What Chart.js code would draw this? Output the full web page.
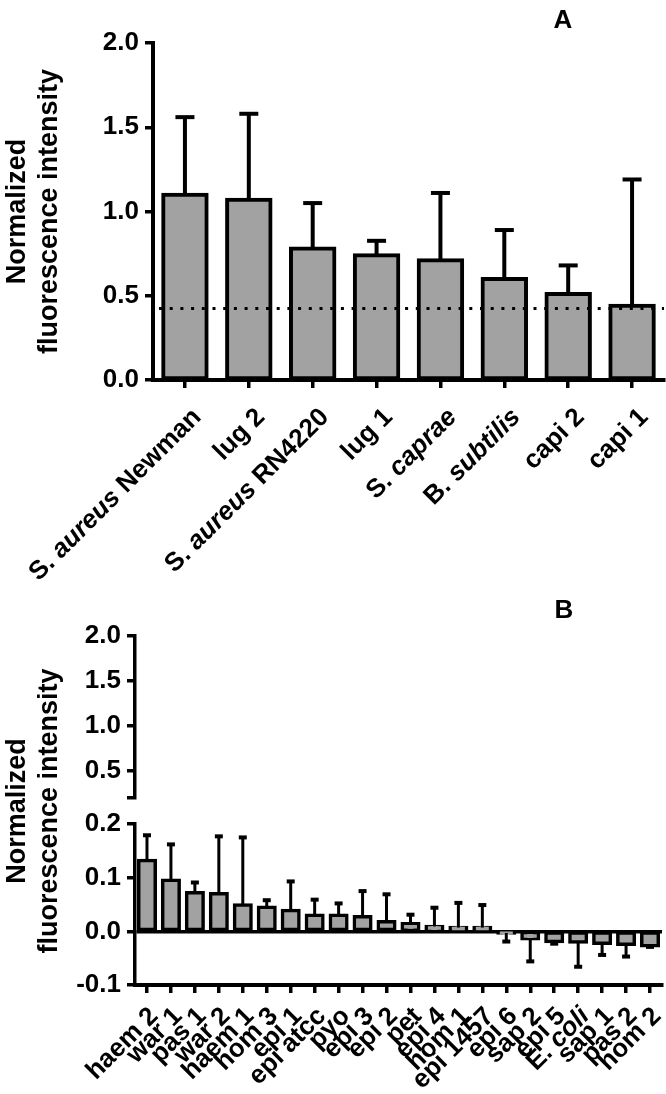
<!DOCTYPE html>
<html>
<head>
<meta charset="utf-8">
<script src="https://cdn.jsdelivr.net/npm/chart.js@4/dist/chart.umd.min.js"></script>
<style>
  html, body { margin: 0; padding: 0; background: #fff; }
  canvas { display: block; }
</style>
</head>
<body>
<canvas id="panelA" width="666" height="590"></canvas>
<canvas id="panelB" width="666" height="504"></canvas>
<script>
// panel A
const labelsA = ['S. aureus Newman', 'lug 2', 'S. aureus RN4220', 'lug 1', 'S. caprae', 'B. subtilis', 'capi 2', 'capi 1'];
const valuesA = [1.10, 1.07, 0.78, 0.74, 0.71, 0.60, 0.51, 0.44];
const errorsA = [0.46, 0.51, 0.27, 0.086, 0.40, 0.29, 0.17, 0.75];
const yTicksA = [0, 0.5, 1.0, 1.5, 2.0];
const cutoffA = 0.425;

// panel B
const labelsB = ['haem 2', 'war 1', 'pas 1', 'war 2', 'haem 1', 'hom 3', 'epi 1', 'epi atcc', 'pyo', 'epi 3', 'epi 2',
                 'pet', 'epi 4', 'hom 1', 'epi 1457', 'epi 6', 'sap 2', 'epi 5', 'E. coli', 'sap 1', 'pas 2', 'hom 2'];
const valuesB = [0.132, 0.095, 0.072, 0.070, 0.049, 0.045, 0.039, 0.030, 0.030, 0.027, 0.018,
                 0.014, 0.009, 0.007, 0.007, -0.003, -0.014, -0.019, -0.020, -0.022, -0.024, -0.027];
const errorsB = [0.047, 0.067, 0.019, 0.107, 0.126, 0.013, 0.054, 0.029, 0.022, 0.048, 0.051,
                 0.017, 0.035, 0.046, 0.042, 0.016, 0.042, 0.004, 0.046, 0.022, 0.023, 0.002];
const yTicksBTop = [0.2, 0.5, 1.0, 1.5, 2.0];
const yTicksBLow = [-0.1, 0, 0.1, 0.2];

const yTitle = ['Normalized', 'fluorescence intensity'];
const FONT = '"Liberation Sans", Arial, Helvetica, sans-serif';
const GREY = '#a2a2a2';

// error bars, drawn through the y scale
const errorBars = {
    id: 'errorBars',
    afterDatasetsDraw(chart, args, opts) {
        const ctx = chart.ctx;
        const y = chart.scales.y;
        chart.data.datasets.forEach((ds, di) => {
            chart.getDatasetMeta(di).data.forEach((bar, i) => {
                const v = ds.data[i], e = ds.errors[i];
                const end = y.getPixelForValue(v >= 0 ? v + e : v - e);
                ctx.save();
                ctx.strokeStyle = '#000';
                ctx.lineWidth = opts.lineWidth;
                ctx.beginPath();
                ctx.moveTo(bar.x, bar.y);
                ctx.lineTo(bar.x, end);
                ctx.stroke();
                ctx.lineWidth = opts.capThickness;
                ctx.beginPath();
                ctx.moveTo(bar.x - opts.capWidth / 2, end);
                ctx.lineTo(bar.x + opts.capWidth / 2, end);
                ctx.stroke();
                ctx.restore();
            });
        });
    }
};

// "S. aureus Newman" -> species name in italics
function labelParts(label) {
    const m = label.match(/^([A-Z]\. )(\S+)(.*)$/);
    return m ? [[m[1], false], [m[2], true], [m[3], false]] : [[label, false]];
}

const slantedLabels = {
    id: 'slantedLabels',
    afterDraw(chart, args, opts) {
        const ctx = chart.ctx, x = chart.scales.x;
        const font = it => (it ? 'italic ' : '') + 'bold ' + opts.size + 'px ' + FONT;
        chart.data.labels.forEach((label, i) => {
            const parts = labelParts(label);
            ctx.save();
            ctx.translate(x.getPixelForTick(i) + opts.dx, x.top + opts.dy);
            ctx.rotate(-Math.PI / 4);
            ctx.textBaseline = 'top';
            ctx.textAlign = 'left';
            ctx.fillStyle = '#000';
            const widths = parts.map(([t, it]) => { ctx.font = font(it); return ctx.measureText(t).width; });
            let pos = -widths.reduce((a, b) => a + b, 0);
            parts.forEach(([t, it], k) => {
                ctx.font = font(it);
                ctx.fillText(t, pos, 0);
                pos += widths[k];
            });
            ctx.restore();
        });
    }
};

const panelLetter = {
    id: 'panelLetter',
    afterDraw(chart, args, opts) {
        const ctx = chart.ctx;
        ctx.save();
        ctx.font = 'bold 26px ' + FONT;
        ctx.fillStyle = '#000';
        ctx.textAlign = 'center';
        ctx.textBaseline = 'alphabetic';
        ctx.fillText(opts.text, opts.x, opts.y);
        ctx.restore();
    }
};

const cutoffLine = {
    id: 'cutoffLine',
    afterDatasetsDraw(chart, args, opts) {
        if (opts.value == null) return;
        const ctx = chart.ctx, area = chart.chartArea;
        const yv = chart.scales.y.getPixelForValue(opts.value);
        ctx.save();
        ctx.strokeStyle = '#000';
        ctx.lineWidth = 3;
        ctx.setLineDash([3, 7.7]);
        ctx.beginPath();
        ctx.moveTo(area.left + 6, yv);
        ctx.lineTo(area.right, yv);
        ctx.stroke();
        ctx.restore();
    }
};

const tickFont = { family: FONT, size: 26, weight: 'bold' };
const titleOpts = {
    display: true, text: yTitle, color: '#000',
    font: { family: FONT, size: 27, weight: 'bold', lineHeight: 1.2 },
    padding: { top: 1, bottom: 0 }
};

function xAxis(height) {
    return {
        grid: { display: true, drawOnChartArea: false, offset: false, tickLength: 8, tickColor: '#000', lineWidth: 3.5 },
        border: { display: true, color: '#000', width: 4 },
        ticks: { display: false },
        afterFit: s => { s.height = height; }
    };
}

new Chart(document.getElementById('panelA'), {
    type: 'bar',
    data: {
        labels: labelsA,
        datasets: [{
            data: valuesA, errors: errorsA,
            backgroundColor: GREY, borderColor: '#000', borderWidth: 4, borderSkipped: false, inflateAmount: 2,
            barPercentage: 0.68, categoryPercentage: 1
        }]
    },
    options: {
        responsive: false,
        animation: false,
        layout: { padding: { top: 43, right: 2, left: 0, bottom: 0 } },
        plugins: {
            legend: { display: false },
            tooltip: { enabled: false },
            errorBars: { lineWidth: 4, capWidth: 19, capThickness: 4 },
            slantedLabels: { dx: 3, dy: 24, size: 26 },
            panelLetter: { text: 'A', x: 563, y: 28 },
            cutoffLine: { value: cutoffA }
        },
        scales: {
            x: xAxis(210),
            y: {
                min: 0, max: 2,
                afterBuildTicks: s => { s.ticks = yTicksA.map(v => ({ value: v })); },
                ticks: { color: '#000', font: tickFont, padding: 6, autoSkip: false, callback: v => v.toFixed(1) },
                grid: { drawOnChartArea: false, tickLength: 8, tickColor: '#000', lineWidth: 3.5 },
                border: { color: '#000', width: 4 },
                title: titleOpts,
                afterFit: s => { s.width = 153; }
            }
        }
    },
    plugins: [errorBars, slantedLabels, panelLetter, cutoffLine]
});

new Chart(document.getElementById('panelB'), {
    type: 'bar',
    data: {
        labels: labelsB,
        datasets: [{
            data: valuesB, errors: errorsB, yAxisID: 'y', xAxisID: 'x',
            backgroundColor: GREY, borderColor: '#000', borderWidth: 3.5, borderSkipped: false, inflateAmount: 1.75,
            barPercentage: 0.69, categoryPercentage: 1
        }]
    },
    options: {
        responsive: false,
        animation: false,
        layout: { padding: { top: 46, right: 4, left: 0, bottom: 0 } },
        plugins: {
            legend: { display: false },
            tooltip: { enabled: false },
            errorBars: { lineWidth: 3, capWidth: 8, capThickness: 4 },
            slantedLabels: { dx: -2, dy: 18, size: 26 },
            panelLetter: { text: 'B', x: 564, y: 28 }
        },
        scales: {
            x: xAxis(109),
            // broken axis: upper part, a gap, lower part
            yTop: {
                type: 'linear', position: 'left', stack: 'b', stackWeight: 162, weight: 3,
                min: 0.2, max: 2,
                afterBuildTicks: s => { s.ticks = yTicksBTop.map(v => ({ value: v })); },
                ticks: { color: '#000', font: tickFont, padding: 6, autoSkip: false, callback: v => v === 0.2 ? '' : v.toFixed(1) },
                grid: { drawOnChartArea: false, tickLength: 8, tickColor: '#000', lineWidth: 3.5 },
                border: { color: '#000', width: 3.5 },
                afterFit: s => { s.width = 135; }
            },
            yGap: {
                type: 'linear', position: 'left', stack: 'b', stackWeight: 26, weight: 2,
                min: 0, max: 1,
                ticks: { display: false },
                grid: { display: false },
                border: { display: false },
                title: titleOpts,
                afterFit: s => { s.width = 135; }
            },
            y: {
                type: 'linear', position: 'left', stack: 'b', stackWeight: 161, weight: 1,
                min: -0.1, max: 0.2,
                afterBuildTicks: s => { s.ticks = yTicksBLow.map(v => ({ value: v })); },
                ticks: { color: '#000', font: tickFont, padding: 6, autoSkip: false, callback: v => v.toFixed(1) },
                grid: {
                    drawOnChartArea: true, tickLength: 8, tickColor: '#000', lineWidth: 3.5,
                    color: c => (c.tick && c.tick.value === 0) ? '#000' : 'rgba(0,0,0,0)'
                },
                border: { color: '#000', width: 3.5 },
                afterFit: s => { s.width = 135; }
            }
        }
    },
    plugins: [errorBars, slantedLabels, panelLetter]
});
</script>
</body>
</html>
